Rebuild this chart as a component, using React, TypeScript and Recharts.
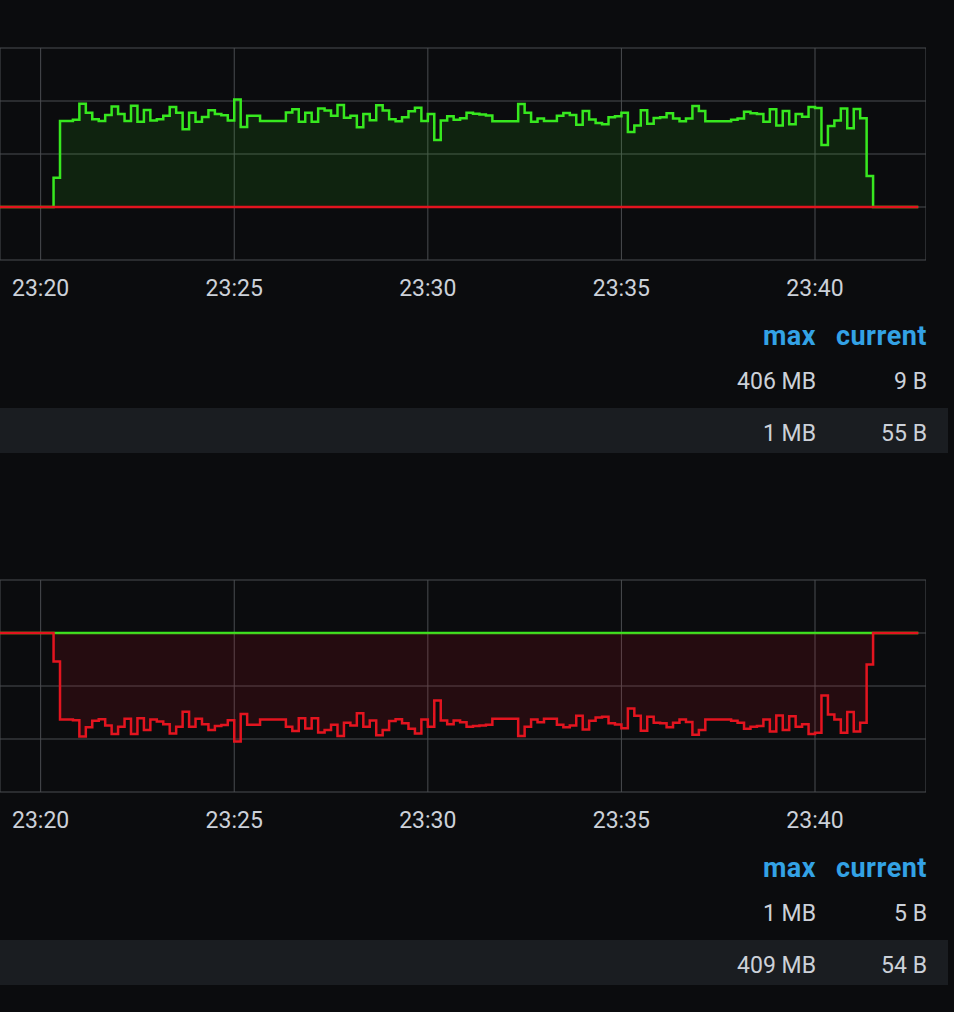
import React from 'react'
import { ComposedChart, Area, XAxis, YAxis, CartesianGrid } from 'recharts'

const toSec = (hms: string) => {
  const [h, m, s = '0'] = hms.split(':')
  return +h * 3600 + +m * 60 + +s
}

// samples every 10 s, 23:18:50 .. 23:42:40
const firstSample = '23:18:50'
const sampleStep = 10
const sampleCount = 144
const times = Array.from({ length: sampleCount }, (_, i) => toSec(firstSample) + i * sampleStep)

const tickLabels = ['23:20', '23:25', '23:30', '23:35', '23:40']
const viewRange = ['23:18:57', '23:42:52']

const idleBefore = [0, 0, 0, 0, 0, 0, 0, 0, 0]
const idleAfter = [0, 0, 0, 0, 0, 0, 0, 0]

// panel 1, receive in MB (23:20:20 .. 23:41:20)
const rxBurst1 = [
  110, 325, 325, 329, 390, 356, 331, 325, 347, 379, 351, 325,
  382, 322, 366, 326, 331, 344, 377, 356, 293, 356, 322, 340,
  365, 351, 346, 326, 406, 302, 344, 344, 325, 325, 325, 325,
  357, 369, 322, 356, 322, 372, 364, 344, 385, 337, 344, 301,
  351, 327, 384, 364, 331, 324, 339, 361, 375, 325, 351, 253,
  326, 342, 329, 335, 356, 352, 349, 345, 324, 324, 324, 324,
  389, 356, 322, 334, 325, 325, 344, 355, 347, 310, 362, 330,
  317, 312, 339, 342, 356, 283, 308, 365, 314, 336, 339, 354,
  334, 324, 334, 381, 362, 324, 324, 324, 324, 329, 334, 359,
  354, 351, 322, 369, 308, 362, 312, 351, 341, 377, 374, 234,
  306, 326, 372, 297, 370, 335, 117,
]

// panel 2, transmit in MB (drawn below zero)
const txBurst2 = [
  108, 326, 326, 329, 391, 356, 331, 325, 349, 381, 354, 324,
  381, 322, 366, 326, 334, 344, 379, 354, 297, 354, 324, 344,
  366, 351, 347, 329, 409, 306, 346, 346, 326, 326, 326, 326,
  354, 370, 322, 360, 322, 375, 366, 346, 389, 339, 349, 303,
  354, 330, 386, 366, 332, 325, 341, 361, 379, 326, 354, 255,
  330, 344, 330, 337, 354, 351, 349, 346, 324, 324, 324, 324,
  389, 354, 326, 337, 324, 324, 346, 356, 349, 312, 364, 331,
  319, 316, 341, 345, 359, 285, 312, 369, 316, 339, 341, 356,
  339, 326, 336, 384, 366, 326, 326, 326, 326, 331, 339, 361,
  354, 351, 326, 372, 311, 366, 314, 354, 344, 381, 376, 236,
  308, 326, 376, 298, 372, 339, 119,
]

// the quiet side of each panel stays on zero at this scale
const quietMB = [
  0, 0, 0, 0, 0, 0, 0, 0, 0, 0, 0, 0, 0, 0, 0, 0, 0, 0, 0, 0, 0, 0, 0, 0,
  0, 0, 0, 0, 0, 0, 0, 0, 0, 0, 0, 0, 0, 0, 0, 0, 0, 0, 0, 0, 0, 0, 0, 0,
  0, 0, 0, 0, 0, 0, 0, 0, 0, 0, 0, 0, 0, 0, 0, 0, 0, 0, 0, 0, 0, 0, 0, 0,
  0, 0, 0, 0, 0, 0, 0, 0, 0, 0, 0, 0, 0, 0, 0, 0, 0, 0, 0, 0, 0, 0, 0, 0,
  0, 0, 0, 0, 0, 0, 0, 0, 0, 0, 0, 0, 0, 0, 0, 0, 0, 0, 0, 0, 0, 0, 0, 0,
  0, 0, 0, 0, 0, 0, 0, 0, 0, 0, 0, 0, 0, 0, 0, 0, 0, 0, 0, 0, 0, 0, 0, 0,
]

const yTicks1 = [-200, 0, 200, 400, 600]
const yTicks2 = [-600, -400, -200, 0, 200]

const legendMax1 = ['406 MB', '1 MB']
const legendCurrent1 = ['9 B', '55 B']
const legendMax2 = ['1 MB', '409 MB']
const legendCurrent2 = ['5 B', '54 B']

const GREEN = '#37e81f'
const RED = '#e3141f'
const BG = '#0b0c0e'
const TEXT = '#ccd1d9'
const BLUE = '#33a2e5'
const FONT = 'Roboto, "Noto Sans", sans-serif'

const rx1 = [...idleBefore, ...rxBurst1, ...idleAfter]
const tx2 = [...idleBefore, ...txBurst2, ...idleAfter]

const rows1 = times.map((t, i) => ({ t, green: rx1[i], red: quietMB[i] }))
const rows2 = times.map((t, i) => ({ t, green: quietMB[i], red: -tx2[i] }))

const xTicks = tickLabels.map(toSec)
const xDomain = viewRange.map(toSec)
const fmtTime = (v: number) => {
  const h = Math.floor(v / 3600)
  const m = Math.floor((v % 3600) / 60)
  return `${h}:${String(m).padStart(2, '0')}`
}

function Panel({ top, rows, yDomain, yTicks, maxCol, currentCol }: any) {
  return (
    <div style={{ position: 'absolute', top, left: 0, width: 954, height: 470 }}>
      <ComposedChart
        width={926}
        height={310}
        data={rows}
        margin={{ top: 48, right: 0, bottom: 0, left: 0 }}
      >
        <CartesianGrid stroke="#4a4c50" strokeWidth={1} />
        <XAxis
          dataKey="t"
          type="number"
          domain={xDomain}
          ticks={xTicks}
          interval={0}
          allowDataOverflow
          tickFormatter={fmtTime}
          axisLine={false}
          tickLine={false}
          tickSize={6}
          tickMargin={14}
          height={50}
          tick={{ fill: TEXT, fontSize: 23, fontFamily: FONT }}
        />
        <YAxis hide type="number" domain={yDomain} ticks={yTicks} allowDataOverflow />
        <Area
          type="stepAfter"
          dataKey="green"
          stroke={GREEN}
          strokeWidth={2.5}
          fill={GREEN}
          fillOpacity={0.11}
          dot={false}
          activeDot={false}
          isAnimationActive={false}
        />
        <Area
          type="stepAfter"
          dataKey="red"
          stroke={RED}
          strokeWidth={2.5}
          fill={RED}
          fillOpacity={0.12}
          dot={false}
          activeDot={false}
          isAnimationActive={false}
        />
      </ComposedChart>

      <div style={{ position: 'absolute', top: 320, right: 138, fontSize: 27, lineHeight: '32px', fontWeight: 700, letterSpacing: 0.5, color: BLUE, fontFamily: FONT }}>
        max
      </div>
      <div style={{ position: 'absolute', top: 320, right: 27, fontSize: 27, lineHeight: '32px', fontWeight: 700, letterSpacing: 0.5, color: BLUE, fontFamily: FONT }}>
        current
      </div>

      <div style={{ position: 'absolute', top: 408, left: 0, width: 948, height: 45, background: '#1a1d21' }} />

      {maxCol.map((v: string, i: number) => (
        <div
          key={`max-${i}`}
          style={{ position: 'absolute', top: 368 + i * 52, right: 138, fontSize: 23, lineHeight: '28px', color: TEXT, fontFamily: FONT }}
        >
          {v}
        </div>
      ))}
      {currentCol.map((v: string, i: number) => (
        <div
          key={`cur-${i}`}
          style={{ position: 'absolute', top: 368 + i * 52, right: 27, fontSize: 23, lineHeight: '28px', color: TEXT, fontFamily: FONT }}
        >
          {v}
        </div>
      ))}
    </div>
  )
}

export default function App() {
  return (
    <div style={{ position: 'absolute', top: 0, left: 0, width: 954, height: 1012, background: BG, overflow: 'hidden' }}>
      <Panel top={0} rows={rows1} yDomain={[-200, 600]} yTicks={yTicks1} maxCol={legendMax1} currentCol={legendCurrent1} />
      <Panel top={532} rows={rows2} yDomain={[-600, 200]} yTicks={yTicks2} maxCol={legendMax2} currentCol={legendCurrent2} />
    </div>
  )
}
